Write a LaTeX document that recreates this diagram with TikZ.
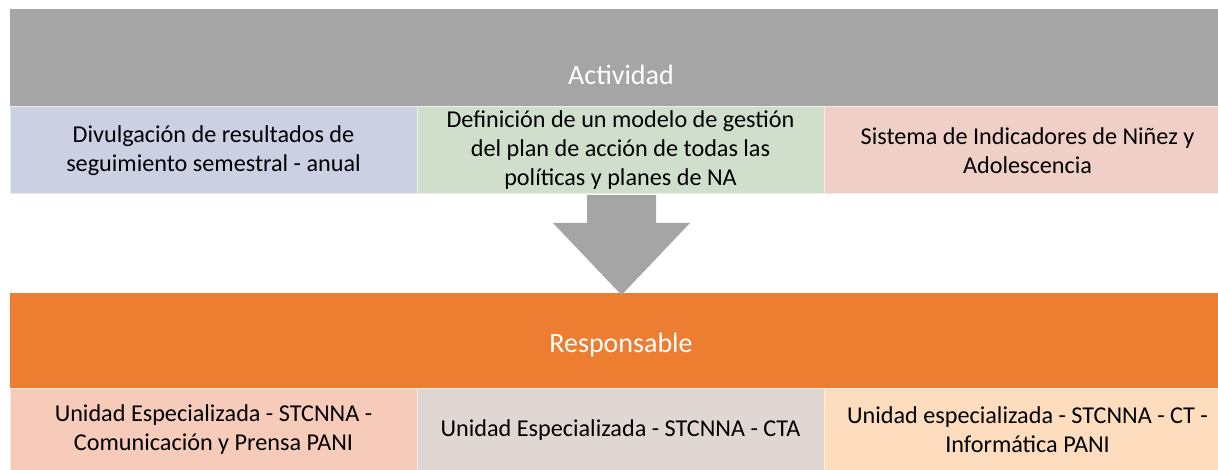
\documentclass[tikz,border=0pt]{standalone}
\usepackage{fontspec}
\setmainfont{Carlito}
\usetikzlibrary{calc}
\definecolor{hdgray}{HTML}{A5A5A5}
\definecolor{hdorange}{HTML}{ED7D31}
\definecolor{abox}{HTML}{CBD0E3}
\definecolor{bbox}{HTML}{D0DECC}
\definecolor{cbox}{HTML}{F0CFC6}
\definecolor{dbox}{HTML}{F6CBBA}
\definecolor{ebox}{HTML}{E1D7D2}
\definecolor{fbox}{HTML}{FDDDBD}
\tikzset{
  cellbox/.style={rectangle, inner sep=0pt, outer sep=0pt, draw=white!55!#1, line width=1pt, fill=#1, font=\fontsize{24.2}{29}\selectfont, align=center, text=black},
  headbar/.style={rectangle, inner sep=0pt, outer sep=0pt, fill=#1, draw=none},
  headtext/.style={font=\fontsize{28}{33}\selectfont, text=white, inner sep=0pt}
}
\begin{document}
\begin{tikzpicture}[x=1pt,y=-1pt]
\useasboundingbox (0,0) rectangle (1218,470);
\clip (0,0) rectangle (1218,470);
% top header
\node[headbar=hdgray, minimum width=1221pt, minimum height=98pt, anchor=north west] (acth) at (10,9) {};
\node[headtext] (actt) at (621,75) {Actividad};
% activity boxes
\node[cellbox=abox, minimum width=407pt, minimum height=87pt, anchor=north west] (act1) at (10,107) {Divulgación de resultados de\\seguimiento semestral - anual};
\node[cellbox=bbox, minimum width=407pt, minimum height=87pt, anchor=north west] (act2) at (417,107) {Definición de un modelo de gestión\\del plan de acción de todas las\\políticas y planes de NA};
\node[cellbox=cbox, minimum width=407pt, minimum height=87pt, anchor=north west] (act3) at (824,107) {Sistema de Indicadores de Niñez y\\Adolescencia};
% bottom header
\node[headbar=hdorange, minimum width=1221pt, minimum height=95pt, anchor=north west] (resh) at (10,293) {};
\node[headtext] (rest) at (621,345) {Responsable};
% responsible boxes
\node[cellbox=dbox, minimum width=407pt, minimum height=84pt, anchor=north west] (res1) at (10,388) {Unidad Especializada - STCNNA -\\Comunicación y Prensa PANI};
\node[cellbox=ebox, minimum width=407pt, minimum height=84pt, anchor=north west] (res2) at (417,388) {Unidad Especializada - STCNNA - CTA};
\node[cellbox=fbox, minimum width=407pt, minimum height=84pt, anchor=north west] (res3) at (824,388) {Unidad especializada - STCNNA - CT -\\Informática PANI};
% block arrow
\coordinate (atop) at (621.5,195);
\coordinate (atip) at (621.5,295);
\fill[hdgray] ($(atop)+(-34.5,0)$) -- ($(atop)+(34.5,0)$) -- ($(atop)+(34.5,28)$) -- ($(atop)+(68.5,28)$) -- (atip) -- ($(atop)+(-68.5,28)$) -- ($(atop)+(-34.5,28)$) -- cycle;
\end{tikzpicture}
\end{document}
